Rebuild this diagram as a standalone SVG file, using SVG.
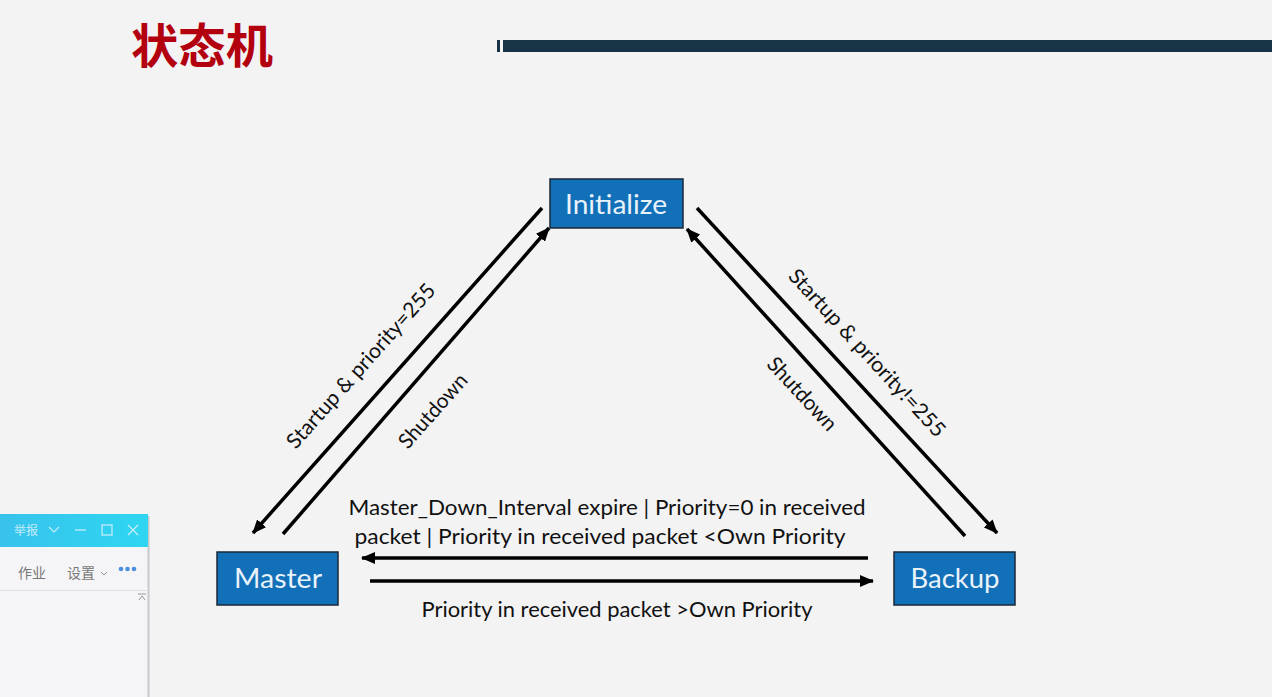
<svg xmlns="http://www.w3.org/2000/svg" width="1272" height="697" viewBox="0 0 1272 697">
<defs>
<marker id="arr" viewBox="0 0 14 12" refX="13" refY="6" markerWidth="14" markerHeight="12" markerUnits="userSpaceOnUse" orient="auto">
<path d="M0,0 L14,6 L0,12 z" fill="#000"/>
</marker>
<linearGradient id="bar" x1="0" y1="0" x2="1" y2="0">
<stop offset="0" stop-color="#38c2ec"/>
<stop offset="1" stop-color="#2fd6f1"/>
</linearGradient>
</defs>
<style>
.node rect{fill:#1170b8;stroke:#1b2836;stroke-width:1.5}
.node text{font-family:Lato,"Open Sans","Liberation Sans",sans-serif;fill:#eaf2fa;text-anchor:middle}
.lbl{font-family:Lato,"Open Sans","Liberation Sans",sans-serif;fill:#111;font-size:21px;text-anchor:middle}
.edge{stroke:#000;stroke-width:3.5;fill:none;marker-end:url(#arr)}
.ui{font-family:"Noto Sans CJK SC","Noto Sans",sans-serif}
</style>
<rect width="1272" height="697" fill="#f3f3f4"/>
<text x="131" y="63" font-family="'Noto Sans CJK SC',sans-serif" font-weight="bold" font-size="47" fill="#b3000f" textLength="142" lengthAdjust="spacingAndGlyphs">状态机</text>
<rect x="497" y="40" width="3" height="12" fill="#163445"/>
<rect x="503" y="40" width="769" height="12" fill="#163445"/>

<g id="connectors">
<line class="edge" x1="542" y1="208" x2="253" y2="533"/>
<line class="edge" x1="283" y1="534" x2="549" y2="228"/>
<line class="edge" x1="697" y1="208" x2="997" y2="533"/>
<line class="edge" x1="965" y1="536" x2="687" y2="229"/>
<line class="edge" x1="868" y1="558" x2="362" y2="558"/>
<line class="edge" x1="370" y1="581" x2="873" y2="581"/>
<text class="lbl" transform="translate(361,366) rotate(-48.4)" dy="7" textLength="212" lengthAdjust="spacingAndGlyphs">Startup &amp; priority=255</text>
<text class="lbl" transform="translate(433,411) rotate(-48.4)" dy="7" textLength="92" lengthAdjust="spacingAndGlyphs">Shutdown</text>
<text class="lbl" transform="translate(867,353) rotate(47.3)" dy="7" textLength="220" lengthAdjust="spacingAndGlyphs">Startup &amp; priority!=255</text>
<text class="lbl" transform="translate(802,394) rotate(47.3)" dy="7" textLength="92" lengthAdjust="spacingAndGlyphs">Shutdown</text>
<text class="lbl" x="607" y="515" textLength="517" lengthAdjust="spacingAndGlyphs">Master_Down_Interval expire | Priority=0 in received</text>
<text class="lbl" x="600" y="544" textLength="491" lengthAdjust="spacingAndGlyphs">packet | Priority in received packet &lt;Own Priority</text>
<text class="lbl" x="617" y="617" textLength="391" lengthAdjust="spacingAndGlyphs">Priority in received packet &gt;Own Priority</text>
</g>

<g id="initialize" class="node">
<rect x="550" y="179" width="133" height="49"/>
<text x="616" y="214" font-size="27" textLength="102" lengthAdjust="spacingAndGlyphs">Initialize</text>
</g>
<g id="master" class="node">
<rect x="217" y="552" width="121" height="53"/>
<text x="278" y="588" font-size="27" textLength="88" lengthAdjust="spacingAndGlyphs">Master</text>
</g>
<g id="backup" class="node">
<rect x="894" y="552" width="121" height="53"/>
<text x="955" y="588" font-size="27" textLength="89" lengthAdjust="spacingAndGlyphs">Backup</text>
</g>

<g id="chat-window">
<rect x="-2" y="514" width="150" height="190" fill="#f5f5f7"/>
<line x1="148.5" y1="516" x2="148.5" y2="697" stroke="#c9c9cc" stroke-width="2"/>
<rect x="-2" y="514" width="150" height="33" fill="url(#bar)"/>
<text class="ui" x="14" y="535" font-size="12" fill="#c4ecfa">举报</text>
<polyline points="49,527 54,532 59,527" fill="none" stroke="#c4ecfa" stroke-width="1.2"/>
<line x1="75" y1="530" x2="86" y2="530" stroke="#c4ecfa" stroke-width="1.3"/>
<rect x="102" y="525" width="10" height="10" fill="none" stroke="#c4ecfa" stroke-width="1.3"/>
<path d="M128,525 L138,535 M138,525 L128,535" stroke="#c4ecfa" stroke-width="1.3"/>
<text class="ui" x="18" y="578" font-size="14" fill="#777">作业</text>
<text class="ui" x="67" y="578" font-size="14" fill="#777">设置</text>
<polyline points="101,572 104,575 107,572" fill="none" stroke="#999" stroke-width="1"/>
<circle cx="121" cy="569" r="2.3" fill="#4a8fe0"/>
<circle cx="127.5" cy="569" r="2.3" fill="#4a8fe0"/>
<circle cx="134" cy="569" r="2.3" fill="#4a8fe0"/>
<line x1="0" y1="590.5" x2="148" y2="590.5" stroke="#e0e0e3" stroke-width="1"/>
<path d="M138,594 L146,594 M139,600 L142,596 L145,600" fill="none" stroke="#999" stroke-width="1"/>
</g>
</svg>
